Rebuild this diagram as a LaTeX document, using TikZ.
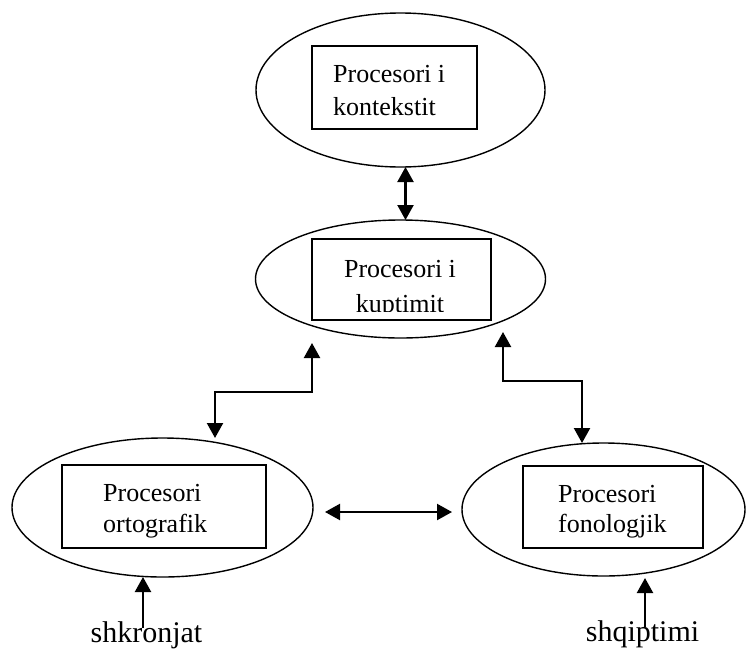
\documentclass[tikz,border=0pt]{standalone}
\usepackage{fontspec}
\setmainfont{Liberation Serif}
\usetikzlibrary{arrows.meta,shapes.geometric}
\begin{document}
\begin{tikzpicture}[x=1pt,y=-1pt,
  oval/.style={draw,ellipse,line width=1.4pt,inner sep=0pt,outer sep=0pt},
  procbox/.style={draw,rectangle,line width=1.8pt,inner sep=0pt,outer sep=0pt},
  boxtext/.style={anchor=base west,inner sep=0pt,font=\fontsize{26}{32}\selectfont},
  intext/.style={anchor=base,inner sep=0pt,font=\fontsize{30}{36}\selectfont},
  link/.style={line width=2.2pt,-{Triangle[length=15pt,width=16pt]}},
  biarrow/.style={line width=2.2pt,{Triangle[length=15pt,width=16pt]}-{Triangle[length=15pt,width=16pt]}}]
\useasboundingbox (0,0) rectangle (746,648);
% ellipses
\node[oval,minimum width=289pt,minimum height=154pt] (ctx) at (400.5,90) {};
\node[oval,minimum width=290pt,minimum height=118pt] (kup) at (400.5,279) {};
\node[oval,minimum width=301pt,minimum height=139pt] (ort) at (162.5,507.5) {};
\node[oval,minimum width=283pt,minimum height=133pt] (fon) at (603.5,509.5) {};
% boxes
\node[procbox,minimum width=165pt,minimum height=83pt] (ctxbox) at (394.5,87.5) {};
\node[procbox,minimum width=179pt,minimum height=81pt] (kupbox) at (401.5,279.5) {};
\node[procbox,minimum width=204pt,minimum height=83pt] (ortbox) at (164,506.5) {};
\node[procbox,minimum width=180pt,minimum height=82pt] (fonbox) at (613,507) {};
% texts
\node[boxtext] (ctxt1) at (333,82) {Procesori i};
\node[boxtext] (ctxt2) at (333,115) {kontekstit};
\node[boxtext,anchor=base] (kupt1) at (400,277) {Procesori i};
\begin{scope}
\clip (313,240) rectangle (490,311);
\node[boxtext,anchor=base] (kupt2) at (400,312) {kuptimit};
\end{scope}
\node[boxtext] (ortt1) at (103,501) {Procesori};
\node[boxtext] (ortt2) at (103,532) {ortografik};
\node[boxtext] (font1) at (558,502) {Procesori};
\node[boxtext] (font2) at (558,532) {fonologjik};
\node[intext] (shk) at (146.5,642) {shkronjat};
\node[intext] (shq) at (642.5,641) {shqiptimi};
% connectors
\draw[biarrow] ([xshift=5pt]ctx.south) -- ([xshift=5pt]kup.north);
\coordinate (kl) at (312,343);
\coordinate (kr) at (503,332);
\draw[biarrow] (kl) |- (215,392) -- (215,438);
\draw[biarrow] (kr) |- (582,381) -- (582,443);
\coordinate (hl) at (325,512);
\coordinate (hr) at (452,512);
\draw[biarrow] (hl) -- (hr);
\coordinate (sa) at (143,628);
\coordinate (sb) at (645,627);
\draw[link] (sa) -- (143,577);
\draw[link] (sb) -- (645,578);
\end{tikzpicture}
\end{document}
